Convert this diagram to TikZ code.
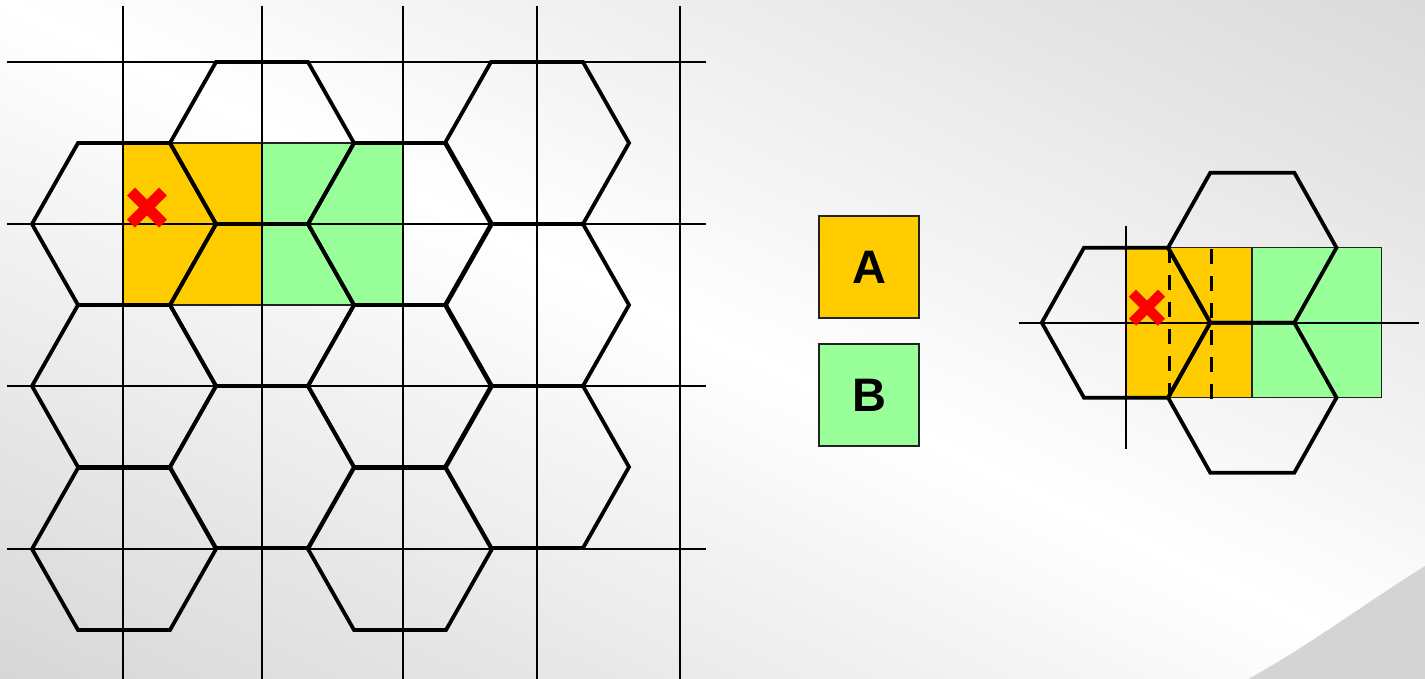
\documentclass[tikz,border=0pt]{standalone}
\usepackage{fontspec}
\setmainfont{Liberation Sans}
\definecolor{cellA}{HTML}{FFCC00}
\definecolor{cellB}{HTML}{99FF99}
\definecolor{bgcorner}{HTML}{D6D6D6}
\definecolor{bgcornerTR}{HTML}{D9D9D9}
\definecolor{wedge}{HTML}{D4D4D4}
\definecolor{markred}{HTML}{FF0000}
\definecolor{thinedge}{HTML}{222222}
\newcommand{\hexL}[2]{\draw[hexline] ({#1-92},{#2}) -- ({#1-46},{#2-81}) -- ({#1+46},{#2-81}) -- ({#1+92},{#2}) -- ({#1+46},{#2+81}) -- ({#1-46},{#2+81}) -- cycle;}
\newcommand{\hexR}[2]{\draw[hexline] ({#1-84.2},{#2}) -- ({#1-42},{#2-75}) -- ({#1+42},{#2-75}) -- ({#1+84.2},{#2}) -- ({#1+42},{#2+75}) -- ({#1-42},{#2+75}) -- cycle;}
\newcommand{\redcross}[4]{\draw[crossline, line width=#4] ({#1-#3},{#2-#3}) -- ({#1+#3},{#2+#3}) ({#1-#3},{#2+#3}) -- ({#1+#3},{#2-#3});}
\tikzset{
  gridline/.style={line width=1.8pt, black},
  hexline/.style={line width=3.8pt, black, line join=miter},
  cellbox/.style={draw=thinedge, line width=1.4pt},
  crossline/.style={markred, line cap=butt},
  dashline/.style={line width=3pt, black, dash pattern=on 15pt off 12pt},
  legendbox/.style={draw=thinedge, line width=1.6pt, minimum width=100pt, minimum height=102pt, inner sep=0pt,
     font=\fontsize{47}{47}\selectfont\bfseries, text=black}
}
\begin{document}
\begin{tikzpicture}[x=1pt, y=-1pt]
\useasboundingbox (0,0) rectangle (1425,678);
% background
\begin{scope}
\clip (0,0) rectangle (1425,678);
\begin{scope}[transform canvas={shift={(712.5,339)}, rotate=-25.45}]
\shade[top color=bgcornerTR, bottom color=bgcorner, middle color=white] (-1000,-625) rectangle (1000,625);
\end{scope}
\fill[wedge] (1246.7,680) .. controls (1310,645) and (1370,600) .. (1425,566) -- (1425,680) -- cycle;
\end{scope}

% ---------- left honeycomb ----------
\fill[cellA] (123,143) rectangle (262,305);
\fill[cellB] (262,143) rectangle (403,305);
\draw[cellbox] (123,143) rectangle (262,305);
\draw[cellbox] (262,143) rectangle (403,305);
\foreach \gx in {123,262,403,537,680} { \draw[gridline] (\gx,6) -- (\gx,680); }
\foreach \gy in {62,224,386,549} { \draw[gridline] (7,\gy) -- (706,\gy); }
\foreach \cy in {224,386,549} { \hexL{124}{\cy} }
\foreach \cy in {143,305,467} { \hexL{262}{\cy} }
\foreach \cy in {224,386,549} { \hexL{400}{\cy} }
\foreach \cy in {143,305,467} { \hexL{537}{\cy} }
\redcross{147}{207.5}{16}{11pt}

% ---------- legend ----------
\node[legendbox, fill=cellA] (legA) at (869,267) {A};
\node[legendbox, fill=cellB] (legB) at (869,395) {B};

% ---------- right detail ----------
\fill[cellA] (1126,247.7) rectangle (1252,397.7);
\fill[cellB] (1252,247.7) rectangle (1381.7,397.7);
\draw[cellbox] (1126,247.7) rectangle (1252,397.7);
\draw[cellbox] (1252,247.7) rectangle (1381.7,397.7);
\draw[gridline] (1126,226) -- (1126,449);
\draw[gridline] (1019,322.7) -- (1419,322.7);
\hexR{1126}{322.7}
\hexR{1252.3}{247.7}
\hexR{1252.3}{397.7}
\draw[dashline] (1169,248) -- (1169,402);
\draw[dashline] (1211,249) -- (1211,403);
\redcross{1147}{307.7}{14.5}{10pt}
\end{tikzpicture}
\end{document}
